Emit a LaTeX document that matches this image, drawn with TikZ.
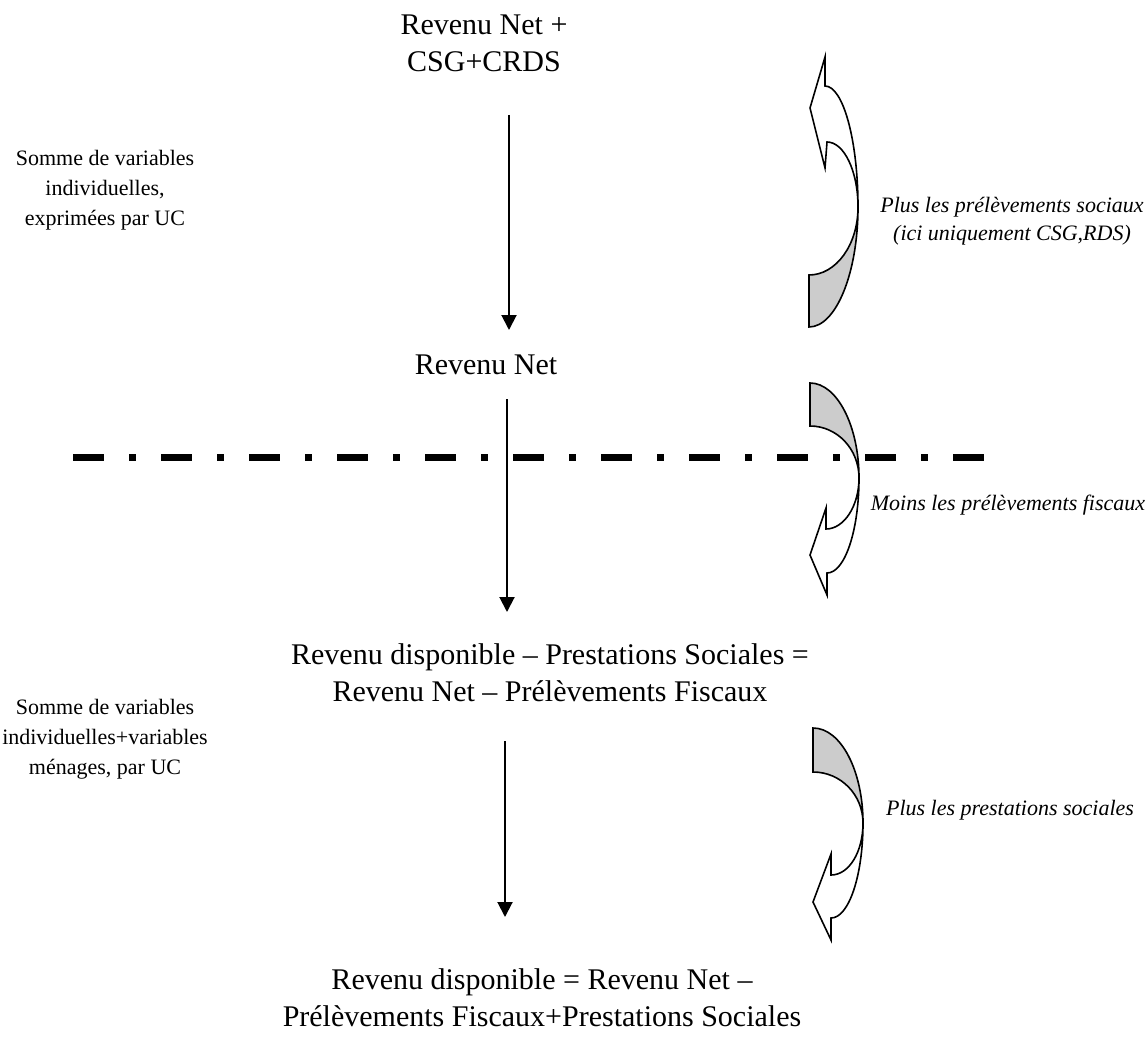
\documentclass[tikz,border=0pt]{standalone}
\usepackage{fontspec}
\setmainfont{Liberation Serif}
\usetikzlibrary{arrows.meta}

\begin{document}
\begin{tikzpicture}[x=1pt,y=1pt,yscale=-1,
    mainlbl/.style={inner sep=0.75pt,align=center,font=\fontsize{30}{37}\selectfont},
    sidelbl/.style={inner sep=0.75pt,align=center,font=\fontsize{22}{30}\selectfont},
    notelbl/.style={inner sep=0.75pt,align=center,font=\fontsize{22}{28}\selectfont\itshape},
    fleche/.style={line width=2pt,-{Triangle[width=15pt,length=15pt]}},
    bande/.style={line width=1.6pt,line join=miter}]
    \useasboundingbox (0,0) rectangle (1147,1040);

    %Dash Dot Line
    \coordinate (ld) at (73,457);
    \coordinate (lf) at (984,457);
    \draw [line width=7pt,dash pattern=on 31pt off 25pt on 7pt off 25pt] (ld) -- (lf);

    %Straight Lines
    \coordinate (a1s) at (509,115); \coordinate (a1e) at (509,330);
    \coordinate (a2s) at (507,399); \coordinate (a2e) at (507,612);
    \coordinate (a3s) at (505,741); \coordinate (a3e) at (505,917);
    \draw [fleche] (a1s) -- (a1e);
    \draw [fleche] (a2s) -- (a2e);
    \draw [fleche] (a3s) -- (a3e);

    %Curved Arrow (up)
    \draw [bande,fill=gray!40] (809,275) -- (809,327) .. controls (836,327) and (858,273) .. (858,207)
        .. controls (858,245) and (836,275) .. (809,275) -- cycle;
    \draw [bande,fill=white] (858,207) .. controls (858,140) and (843,86) .. (825,86) -- (825,57) -- (810,108)
        -- (825,168) -- (827,142) .. controls (844,142) and (858,171) .. (858,207) -- cycle;
    %Curved Arrow (down)
    \draw [bande,fill=gray!40] (810,426) -- (810,383) .. controls (837,383) and (859,426) .. (859,478)
        .. controls (859,449) and (837,426) .. (810,426) -- cycle;
    \draw [bande,fill=white] (859,478) .. controls (859,530) and (845,573) .. (827,573) -- (827,595) -- (810,555)
        -- (826,508) -- (826,529) .. controls (844,529) and (859,506) .. (859,478) -- cycle;
    %Curved Arrow (down)
    \draw [bande,fill=gray!40] (813,772) -- (813,728) .. controls (841,728) and (863,771) .. (863,823)
        .. controls (863,795) and (841,772) .. (813,772) -- cycle;
    \draw [bande,fill=white] (863,823) .. controls (863,875) and (849,918) .. (831,918) -- (831,940) -- (813,902)
        -- (831,854) -- (831,875) .. controls (849,875) and (863,852) .. (863,823) -- cycle;

    % Text Node
    \node [mainlbl] (brut) at (484,43) {Revenu Net +\\CSG+CRDS};
    % Text Node
    \node [mainlbl] (net) at (486,365) {Revenu Net};
    % Text Node
    \node [mainlbl] (dispo1) at (550,673) {Revenu disponible -- Prestations Sociales =\\Revenu Net -- Prélèvements Fiscaux};
    % Text Node
    \node [mainlbl] (dispo2) at (542,998) {Revenu disponible = Revenu Net --\\Prélèvements Fiscaux+Prestations Sociales};
    % Text Node
    \node [sidelbl] (somme1) at (105,190) {Somme de variables\\individuelles,\\exprimées par UC};
    % Text Node
    \node [sidelbl] (somme2) at (105,739) {Somme de variables\\individuelles+variables\\ménages, par UC};
    % Text Node
    \node [notelbl] (plus1) at (1012,221) {Plus les prélèvements sociaux\\(ici uniquement CSG,RDS)};
    % Text Node
    \node [notelbl] (moins) at (1008,505) {Moins les prélèvements fiscaux};
    % Text Node
    \node [notelbl] (plus2) at (1010,810) {Plus les prestations sociales};

\end{tikzpicture}
\end{document}
